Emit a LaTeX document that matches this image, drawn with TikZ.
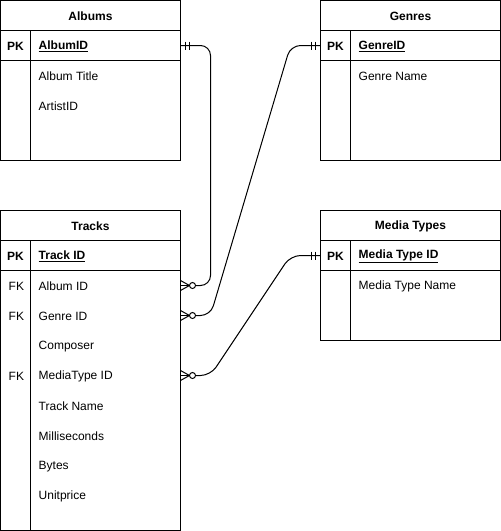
\documentclass[tikz,border=0pt]{standalone}
\usepackage{fontspec}
\setmainfont{Liberation Sans}
\begin{document}
\begin{tikzpicture}[x=1pt,y=-1pt,
  tbl/.style={draw=black,line width=1pt,fill=white,inner sep=0pt,outer sep=0pt,minimum width=180pt},
  rowbox/.style={inner sep=0pt,outer sep=0pt,minimum width=180pt,minimum height=30pt},
  title/.style={font=\fontsize{12}{14}\selectfont\bfseries,anchor=center,yshift=-1pt},
  key/.style={font=\fontsize{12}{14}\selectfont\bfseries,anchor=center,yshift=-1pt},
  field/.style={font=\fontsize{12}{14}\selectfont,anchor=west,inner sep=0pt,yshift=-1pt},
  pkfield/.style={font=\fontsize{12}{14}\selectfont\bfseries,anchor=west,inner sep=0pt,yshift=-1pt},
  rule/.style={line width=1pt},
  conn/.style={line width=1pt,rounded corners=10pt},
  ermark/.style={line width=1pt},
]
\fill[white] (0,0) rectangle (501,531);
\useasboundingbox (0,0) rectangle (501,531);

\newcommand{\pkname}[1]{\underline{#1}}

% ---------- Albums ----------
\node[tbl,minimum height=160pt] (albums) at (90.5,80.5) {};
\draw[rule] (0.5,30.5) -- (180.5,30.5) (0.5,60.5) -- (180.5,60.5) (30.5,30.5) -- (30.5,160.5);
\node[title] at (90.5,15.5) {Albums};
\node[rowbox] (albPK) at (90.5,45.5) {};
\node[key] at (15.5,45.5) {PK};
\node[pkfield] at (38.5,45.5) {\pkname{AlbumID}};
\node[field] at (38.5,75.5) {Album Title};
\node[field] at (38.5,105.5) {ArtistID};

% ---------- Genres ----------
\node[tbl,minimum height=160pt] (genres) at (410.5,80.5) {};
\draw[rule] (320.5,30.5) -- (500.5,30.5) (320.5,60.5) -- (500.5,60.5) (350.5,30.5) -- (350.5,160.5);
\node[title] at (410.5,15.5) {Genres};
\node[rowbox] (genPK) at (410.5,45.5) {};
\node[key] at (335.5,45.5) {PK};
\node[pkfield] at (358.5,45.5) {\pkname{GenreID}};
\node[field] at (358.5,75.5) {Genre Name};

% ---------- Tracks ----------
\node[tbl,minimum height=320pt] (tracks) at (90.5,370.5) {};
\draw[rule] (0.5,240.5) -- (180.5,240.5) (0.5,270.5) -- (180.5,270.5) (30.5,240.5) -- (30.5,530.5);
\node[title] at (90.5,225.5) {Tracks};
\node[key] at (15.5,255.5) {PK};
\node[pkfield] at (38.5,255.5) {\pkname{Track ID}};
\node[rowbox] (trkAlbum) at (90.5,285.5) {};
\node[field] at (8.5,285.5) {FK};
\node[field] at (38.5,285.5) {Album ID};
\node[rowbox] (trkGenre) at (90.5,315.5) {};
\node[field] at (8.5,315.5) {FK};
\node[field] at (38.5,315.5) {Genre ID};
\node[field] at (38.5,345.5) {Composer};
\node[rowbox] (trkMedia) at (90.5,375.5) {};
\node[field] at (8.5,375.5) {FK};
\node[field] at (38.5,375.5) {MediaType ID};
\node[field] at (38.5,405.5) {Track Name};
\node[field] at (38.5,435.5) {Milliseconds};
\node[field] at (38.5,465.5) {Bytes};
\node[field] at (38.5,495.5) {Unitprice};

% ---------- Media Types ----------
\node[tbl,minimum height=130pt] (media) at (410.5,275.5) {};
\draw[rule] (320.5,240.5) -- (500.5,240.5) (320.5,270.5) -- (500.5,270.5) (350.5,240.5) -- (350.5,340.5);
\node[title] at (410.5,225.5) {Media Types};
\node[rowbox] (medPK) at (410.5,255.5) {};
\node[key] at (335.5,255.5) {PK};
\node[pkfield] at (358.5,255.5) {\pkname{Media Type ID}};
\node[field] at (358.5,285.5) {Media Type Name};

% ---------- relationships ----------
\draw[conn] ([xshift=15pt]trkAlbum.east) -- ([xshift=30pt]trkAlbum.east)
  -- ([xshift=30pt]albPK.east) -- (albPK.east);
\draw[conn] ([xshift=15pt]trkGenre.east) -- ([xshift=30pt]trkGenre.east)
  -- ([xshift=-30pt]genPK.west) -- (genPK.west);
\draw[conn] ([xshift=15pt]trkMedia.east) -- ([xshift=30pt]trkMedia.east)
  -- ([xshift=-30pt]medPK.west) -- (medPK.west);

% mandatory-one marks
\foreach \n/\s in {albPK.east/1, genPK.west/-1, medPK.west/-1} {
  \draw[ermark] ([xshift=\s*5pt,yshift=4pt]\n) -- ([xshift=\s*5pt,yshift=-4pt]\n);
  \draw[ermark] ([xshift=\s*9pt,yshift=4pt]\n) -- ([xshift=\s*9pt,yshift=-4pt]\n);
}
% zero-to-many marks
\foreach \n in {trkAlbum, trkGenre, trkMedia} {
  \draw[ermark] ([yshift=5pt]\n.east) -- ([xshift=9pt]\n.east) -- ([yshift=-5pt]\n.east);
  \draw[ermark] (\n.east) -- ([xshift=9pt]\n.east);
  \draw[ermark,fill=white] ([xshift=12pt]\n.east) circle (3pt);
}
\end{tikzpicture}
\end{document}
